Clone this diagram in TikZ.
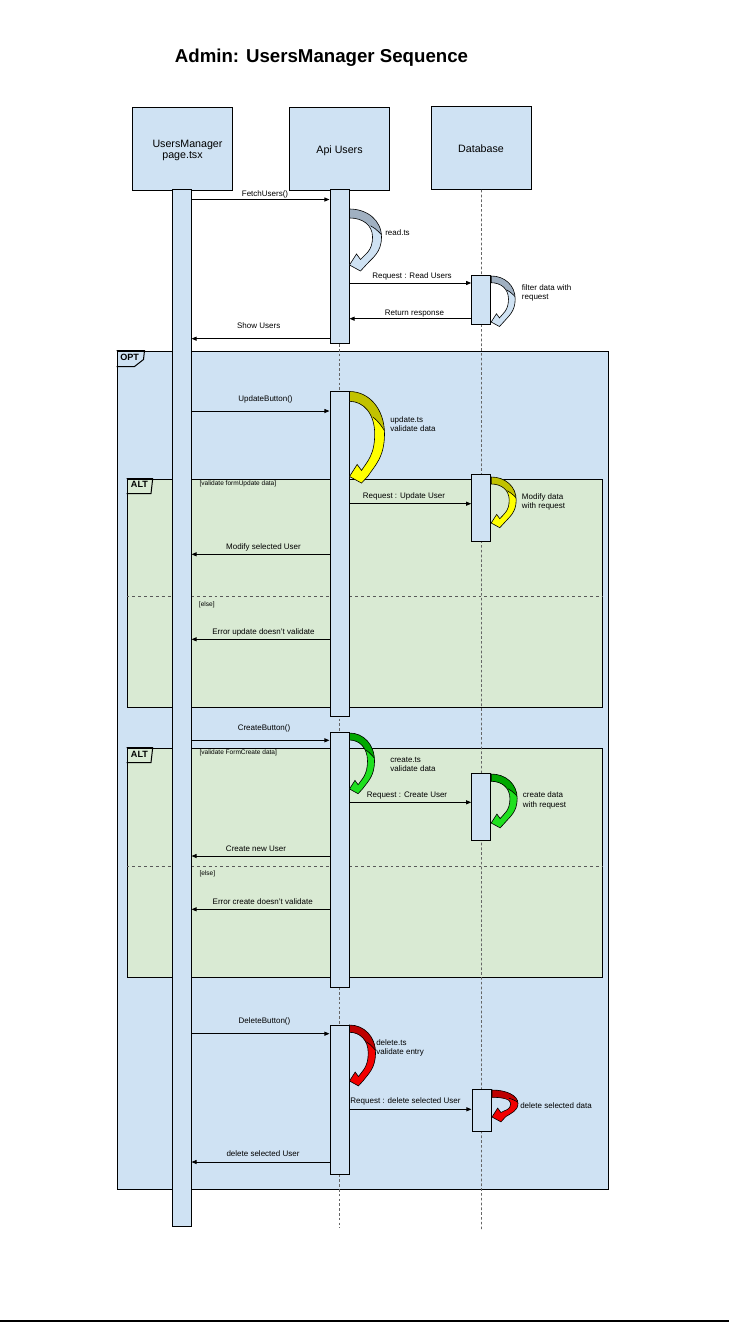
\documentclass[tikz,border=0pt]{standalone}
\usepackage{fontspec}
\setmainfont{Liberation Sans}
\usetikzlibrary{arrows.meta,fit}

\definecolor{laneblue}{HTML}{CFE2F3}
\definecolor{lanegreen}{HTML}{D9EAD3}
\definecolor{blueback}{HTML}{A0B0C1}
\definecolor{yellowback}{HTML}{C2C200}
\definecolor{yellowfront}{HTML}{FFFF00}
\definecolor{greenback}{HTML}{00A800}
\definecolor{greenfront}{HTML}{1FE01F}
\definecolor{redback}{HTML}{BE0000}
\definecolor{redfront}{HTML}{F20000}

% curved self-call arrow: #1 start point on the bar edge, #2 drop to the tip,
% #3 bulge to the right, #4 back face colour, #5 front face colour
\newcommand\selfcall[5]{%
  \pgfmathsetmacro\callscale{#3/32}%
  \pgfmathsetmacro\callthick{0.28*#3}%
  \begin{scope}[shift={(#1)}]
    \def\callband{(0,0) .. controls ({0.55*#3},0) and (#3,{0.2*#2}) .. (#3,{0.5*#2})
      .. controls (#3,{0.775*#2}) and ({17*\callscale+0.4*(#3-17*\callscale)},{#2-0.5*\callscale-0.12*#2}) .. ({17*\callscale},{#2-0.5*\callscale})
      -- ({11*\callscale},{#2+6*\callscale}) -- (0,#2) -- ({7*\callscale},{#2-11*\callscale}) -- ({11*\callscale},{#2-5.5*\callscale})
      .. controls ({11*\callscale+0.4*(#3-\callthick-11*\callscale)},{#2-5.5*\callscale-0.1*#2}) and ({#3-\callthick},{0.75*#2}) .. ({#3-\callthick},{0.5*#2})
      .. controls ({#3-\callthick},{0.2*#2+0.5*\callthick}) and ({0.55*(#3-\callthick)},\callthick) .. (0,\callthick) -- cycle}%
    \fill[#5] \callband;
    \begin{scope}
      \clip \callband;
      \fill[#4] (-5,-5) -- ({#3+5},-5) -- ({#3+5},{0.56*#2})
        .. controls ({#3-0.1*\callthick},{0.44*#2}) and ({#3-0.5*\callthick},{0.36*#2}) .. ({#3-\callthick-2},{0.3*#2})
        -- (-5,{0.3*#2}) -- cycle;
      \draw[callface] ({#3+5},{0.56*#2})
        .. controls ({#3-0.1*\callthick},{0.44*#2}) and ({#3-0.5*\callthick},{0.36*#2}) .. ({#3-\callthick-2},{0.3*#2});
    \end{scope}
    \draw[callface] \callband;
  \end{scope}}

\begin{document}
\begin{tikzpicture}[x=0.75pt,y=-0.75pt,
  every node/.style={inner sep=0pt},
  lane/.style={draw=black, line width=0.75pt, fill=laneblue, inner sep=0pt},
  frame/.style={draw=black, line width=0.75pt, inner sep=0pt},
  tagline/.style={draw=black, line width=0.75pt},
  tagtext/.style={font=\bfseries\fontsize{6.8}{8}\selectfont, anchor=west, text height=4.9pt, text depth=0pt},
  headtext/.style={font=\fontsize{8}{9.6}\selectfont, text height=5.7pt, text depth=0pt},
  lbl/.style={font=\fontsize{6}{7}\selectfont, text height=4.3pt, text depth=0pt},
  side/.style={font=\fontsize{6}{7}\selectfont, align=left, anchor=west},
  guard/.style={font=\fontsize{4.9}{6}\selectfont, anchor=west, text height=3.5pt, text depth=0pt},
  msg/.style={draw=black, line width=0.7pt, -{Triangle[length=3.8pt,width=3pt]}},
  life/.style={draw=black!60, line width=0.6pt, dash pattern=on 2pt off 1.6pt},
  elseline/.style={draw=black!65, line width=0.6pt, dash pattern=on 2.2pt off 2.2pt},
  callface/.style={draw=black, line width=0.45pt}]

\path[use as bounding box, fill=white] (0,0) rectangle (729,1322);

% title
\node[font=\bfseries\fontsize{14}{16}\selectfont] (title) at (321.5,57.5) {Admin: UsersManager Sequence};

% combined fragments
\node[frame, fill=laneblue, fit={(117,351)(608,1189)}] (opt) {};
\node[frame, fill=lanegreen, fit={(127,479)(602,707)}] (alt1) {};
\node[frame, fill=lanegreen, fit={(127,748)(602,977)}] (alt2) {};

\draw[tagline] (opt.north west) -- ++(28,0) -- ++(-1,9) -- ++(-9,7) -- ++(-18,0);
\draw[tagline] (alt1.north west) -- ++(26,0) -- ++(0,2) -- ++(-1.5,13) -- ++(-24.5,0);
\draw[tagline] (alt2.north west) -- ++(26,0) -- ++(0,2) -- ++(-1.5,13) -- ++(-24.5,0);
\node[tagtext] (optname) at (120,357.5) {OPT};
\node[tagtext] (alt1name) at (130.7,484.5) {ALT};
\node[tagtext] (alt2name) at (130.7,754.5) {ALT};

\node[guard] (g1) at (199.3,482.7) {[validate formUpdate data]};
\node[guard] (g2) at (198.7,604.3) {[else]};
\node[guard] (g3) at (199.3,752.3) {[validate FormCreate data]};
\node[guard] (g4) at (199.3,873.3) {[else]};

\draw[elseline] (alt1.west |- 0,596.3) -- (alt1.east |- 0,596.3);
\draw[elseline] (alt2.west |- 0,866) -- (alt2.east |- 0,866);

% participants
\node[lane, fit={(132.3,107.3)(232.3,190)}] (hum) {};
\node[lane, fit={(289.3,107.3)(389.3,190)}] (hapi) {};
\node[lane, fit={(431.3,106)(531.7,189.3)}] (hdb) {};
\node[headtext] (humt1) at (187.5,143.3) {UsersManager};
\node[headtext] (humt2) at (182.5,155) {page.tsx};
\node[headtext] (hapit) at (339.5,149.3) {Api Users};
\node[headtext] (hdbt) at (481,148.3) {Database};

% lifelines
\coordinate (apiend) at (339.3,1228);
\coordinate (dbend) at (481.5,1229);
\draw[life] (hapi.south) -- (apiend);
\draw[life] (hdb.south) -- (dbend);

% activation bars
\node[lane, fit={(172.7,189.3)(191,1226)}] (ua) {};
\node[lane, fit={(330,189.3)(349,343.3)}] (a1) {};
\node[lane, fit={(330,391.7)(349,716)}] (a2) {};
\node[lane, fit={(330,732.3)(349,987)}] (a3) {};
\node[lane, fit={(330,1025)(349,1174)}] (a4) {};
\node[lane, fit={(471.7,275.5)(490.7,324.5)}] (d1) {};
\node[lane, fit={(471.7,474.3)(490.7,541)}] (d2) {};
\node[lane, fit={(471.7,773.3)(490.7,840)}] (d3) {};
\node[lane, fit={(472,1089.3)(491.5,1131.3)}] (d4) {};

% messages
\draw[msg] (ua.east |- 0,199.5) -- (a1.west |- 0,199.5);
\draw[msg] (a1.east |- 0,283) -- (d1.west |- 0,283);
\draw[msg] (d1.west |- 0,318.7) -- (a1.east |- 0,318.7);
\draw[msg] (a1.west |- 0,338.7) -- (ua.east |- 0,338.7);
\draw[msg] (ua.east |- 0,411) -- (a2.west |- 0,411);
\draw[msg] (a2.east |- 0,503.7) -- (d2.west |- 0,503.7);
\draw[msg] (a2.west |- 0,554.3) -- (ua.east |- 0,554.3);
\draw[msg] (a2.west |- 0,639.3) -- (ua.east |- 0,639.3);
\draw[msg] (ua.east |- 0,740.3) -- (a3.west |- 0,740.3);
\draw[msg] (a3.east |- 0,802.3) -- (d3.west |- 0,802.3);
\draw[msg] (a3.west |- 0,856) -- (ua.east |- 0,856);
\draw[msg] (a3.west |- 0,909.3) -- (ua.east |- 0,909.3);
\draw[msg] (ua.east |- 0,1033.7) -- (a4.west |- 0,1033.7);
\draw[msg] (a4.east |- 0,1109.3) -- (d4.west |- 0,1109.3);
\draw[msg] (a4.west |- 0,1162) -- (ua.east |- 0,1162);

% self calls
\selfcall{a1.east |- 0,209}{56}{32}{blueback}{laneblue}
\selfcall{d1.east |- 0,276}{46}{24}{blueback}{laneblue}
\selfcall{a2.east |- 0,391.5}{85}{35}{yellowback}{yellowfront}
\selfcall{d2.east |- 0,477}{46}{25}{yellowback}{yellowfront}
\selfcall{a3.east |- 0,733}{56}{25}{greenback}{greenfront}
\selfcall{d3.east |- 0,774}{49}{26}{greenback}{greenfront}
\selfcall{a4.east |- 0,1025}{56}{26}{redback}{redfront}
\selfcall{d4.east |- 0,1090}{27}{26}{redback}{redfront}

% message labels
\node[lbl] (t1) at (265,193.3) {FetchUsers()};
\node[lbl] (t2) at (412,276) {Request : Read Users};
\node[lbl] (t3) at (414.5,312.3) {Return response};
\node[lbl] (t4) at (258.7,326) {Show Users};
\node[lbl] (t5) at (265.5,398.3) {UpdateButton()};
\node[lbl] (t6) at (404,496) {Request : Update User};
\node[lbl] (t7) at (263.5,546.7) {Modify selected User};
\node[lbl] (t8) at (263.5,632) {Error update doesn't validate};
\node[lbl] (t9) at (264,727.7) {CreateButton()};
\node[lbl] (t10) at (407,795) {Request : Create User};
\node[lbl] (t11) at (256,848.3) {Create new User};
\node[lbl] (t12) at (262.7,901.7) {Error create doesn't validate};
\node[lbl] (t13) at (264.5,1021) {DeleteButton()};
\node[lbl] (t14) at (405.5,1101) {Request : delete selected User};
\node[lbl] (t15) at (263,1154) {delete selected User};

% self call notes
\node[side] (s1) at (385,232.7) {read.ts};
\node[side] (s2) at (521.7,293) {filter data with\\request};
\node[side] (s3) at (390,424.2) {update.ts\\validate data};
\node[side] (s4) at (521.7,502) {Modify data\\with request};
\node[side] (s5) at (390,764.7) {create.ts\\validate data};
\node[side] (s6) at (522.7,800.4) {create data\\with request};
\node[side] (s7) at (376,1048) {delete.ts\\validate entry};
\node[side] (s8) at (520,1106) {delete selected data};

% page rule
\draw[line width=1.2pt] (0,1321) -- (729,1321);
\end{tikzpicture}
\end{document}
